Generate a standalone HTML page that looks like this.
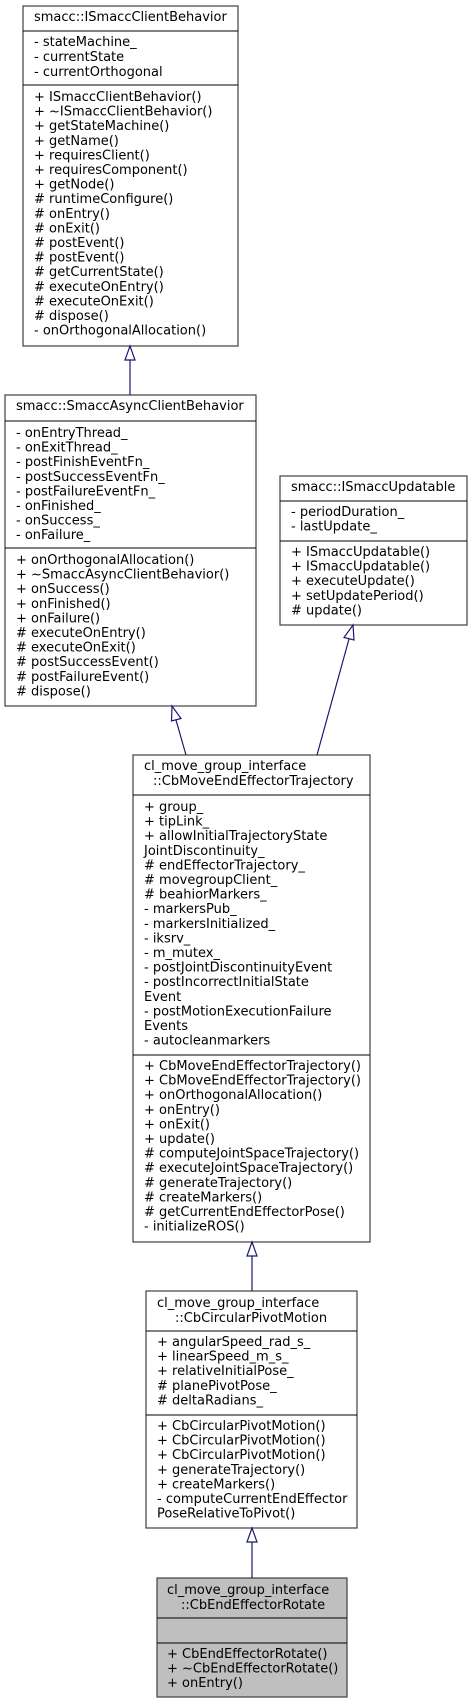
<!DOCTYPE html>
<html><head><meta charset="utf-8"><style>
html,body{margin:0;padding:0;background:#fff;}
svg{display:block;}
text{font-family:"DejaVu Sans","Liberation Sans",sans-serif;font-size:13px;fill:#000;}
.b{fill:#fff;stroke:#404040;stroke-width:1.2;}
.g{fill:#bfbfbf;stroke:#404040;stroke-width:1.2;}
.d{stroke:#000;stroke-width:1;}
.e{stroke:#191970;stroke-width:1.2;fill:none;}
.a{stroke:#191970;stroke-width:1.2;fill:#fff;}
</style></head><body>
<svg width="472" height="1704" viewBox="0 0 472 1704" xmlns="http://www.w3.org/2000/svg">
<!-- Box1 -->
<rect class="b" x="23" y="6" width="215" height="340"/>
<line class="d" x1="23" y1="31" x2="238" y2="31"/>
<line class="d" x1="23" y1="85" x2="238" y2="85"/>
<text x="34" y="21">smacc::ISmaccClientBehavior</text>
<text x="34" y="46">- stateMachine_</text>
<text x="34" y="61">- currentState</text>
<text x="34" y="76">- currentOrthogonal</text>
<text x="34" y="101">+ ISmaccClientBehavior()</text>
<text x="34" y="115.6">+ ~ISmaccClientBehavior()</text>
<text x="34" y="130.2">+ getStateMachine()</text>
<text x="34" y="144.8">+ getName()</text>
<text x="34" y="159.4">+ requiresClient()</text>
<text x="34" y="174">+ requiresComponent()</text>
<text x="34" y="188.6">+ getNode()</text>
<text x="34" y="203.2"># runtimeConfigure()</text>
<text x="34" y="217.8"># onEntry()</text>
<text x="34" y="232.4"># onExit()</text>
<text x="34" y="247"># postEvent()</text>
<text x="34" y="261.6"># postEvent()</text>
<text x="34" y="276.2"># getCurrentState()</text>
<text x="34" y="290.8"># executeOnEntry()</text>
<text x="34" y="305.4"># executeOnExit()</text>
<text x="34" y="320"># dispose()</text>
<text x="34" y="334.6">- onOrthogonalAllocation()</text>

<!-- Box2 -->
<rect class="b" x="5" y="395" width="251" height="311"/>
<line class="d" x1="5" y1="421" x2="256" y2="421"/>
<line class="d" x1="5" y1="548" x2="256" y2="548"/>
<text x="16" y="410">smacc::SmaccAsyncClientBehavior</text>
<text x="16" y="437">- onEntryThread_</text>
<text x="16" y="451.6">- onExitThread_</text>
<text x="16" y="466.2">- postFinishEventFn_</text>
<text x="16" y="480.8">- postSuccessEventFn_</text>
<text x="16" y="495.4">- postFailureEventFn_</text>
<text x="16" y="510">- onFinished_</text>
<text x="16" y="524.6">- onSuccess_</text>
<text x="16" y="539.2">- onFailure_</text>
<text x="16" y="564">+ onOrthogonalAllocation()</text>
<text x="16" y="578.6">+ ~SmaccAsyncClientBehavior()</text>
<text x="16" y="593.2">+ onSuccess()</text>
<text x="16" y="607.8">+ onFinished()</text>
<text x="16" y="622.4">+ onFailure()</text>
<text x="16" y="637"># executeOnEntry()</text>
<text x="16" y="651.6"># executeOnExit()</text>
<text x="16" y="666.2"># postSuccessEvent()</text>
<text x="16" y="680.8"># postFailureEvent()</text>
<text x="16" y="695.4"># dispose()</text>

<!-- Box3 -->
<rect class="b" x="280" y="476" width="187" height="149"/>
<line class="d" x1="280" y1="501" x2="467" y2="501"/>
<line class="d" x1="280" y1="541" x2="467" y2="541"/>
<text x="291" y="491">smacc::ISmaccUpdatable</text>
<text x="291" y="516">- periodDuration_</text>
<text x="291" y="530.6">- lastUpdate_</text>
<text x="291" y="556">+ ISmaccUpdatable()</text>
<text x="291" y="570.6">+ ISmaccUpdatable()</text>
<text x="291" y="585.2">+ executeUpdate()</text>
<text x="291" y="599.8">+ setUpdatePeriod()</text>
<text x="291" y="614.4"># update()</text>

<!-- Box4 -->
<rect class="b" x="133" y="755" width="237" height="487"/>
<line class="d" x1="133" y1="795" x2="370" y2="795"/>
<line class="d" x1="133" y1="1055" x2="370" y2="1055"/>
<text x="144" y="770">cl_move_group_interface</text>
<text x="153" y="785">::CbMoveEndEffectorTrajectory</text>
<text x="144" y="811">+ group_</text>
<text x="144" y="825.6">+ tipLink_</text>
<text x="144" y="840.2">+ allowInitialTrajectoryState</text>
<text x="144" y="854.8">JointDiscontinuity_</text>
<text x="144" y="869.4"># endEffectorTrajectory_</text>
<text x="144" y="884"># movegroupClient_</text>
<text x="144" y="898.6"># beahiorMarkers_</text>
<text x="144" y="913.2">- markersPub_</text>
<text x="144" y="927.8">- markersInitialized_</text>
<text x="144" y="942.4">- iksrv_</text>
<text x="144" y="957">- m_mutex_</text>
<text x="144" y="971.6">- postJointDiscontinuityEvent</text>
<text x="144" y="986.2">- postIncorrectInitialState</text>
<text x="144" y="1000.8">Event</text>
<text x="144" y="1015.4">- postMotionExecutionFailure</text>
<text x="144" y="1030">Events</text>
<text x="144" y="1044.6">- autocleanmarkers</text>
<text x="144" y="1070">+ CbMoveEndEffectorTrajectory()</text>
<text x="144" y="1084.6">+ CbMoveEndEffectorTrajectory()</text>
<text x="144" y="1099.2">+ onOrthogonalAllocation()</text>
<text x="144" y="1113.8">+ onEntry()</text>
<text x="144" y="1128.4">+ onExit()</text>
<text x="144" y="1143">+ update()</text>
<text x="144" y="1157.6"># computeJointSpaceTrajectory()</text>
<text x="144" y="1172.2"># executeJointSpaceTrajectory()</text>
<text x="144" y="1186.8"># generateTrajectory()</text>
<text x="144" y="1201.4"># createMarkers()</text>
<text x="144" y="1216"># getCurrentEndEffectorPose()</text>
<text x="144" y="1230.6">- initializeROS()</text>

<!-- Box5 -->
<rect class="b" x="146" y="1291" width="211" height="237"/>
<line class="d" x1="146" y1="1331" x2="357" y2="1331"/>
<line class="d" x1="146" y1="1415" x2="357" y2="1415"/>
<text x="157" y="1307">cl_move_group_interface</text>
<text x="175" y="1322">::CbCircularPivotMotion</text>
<text x="157" y="1346">+ angularSpeed_rad_s_</text>
<text x="157" y="1360.6">+ linearSpeed_m_s_</text>
<text x="157" y="1375.2">+ relativeInitialPose_</text>
<text x="157" y="1389.8"># planePivotPose_</text>
<text x="157" y="1404.4"># deltaRadians_</text>
<text x="157" y="1430">+ CbCircularPivotMotion()</text>
<text x="157" y="1444.6">+ CbCircularPivotMotion()</text>
<text x="157" y="1459.2">+ CbCircularPivotMotion()</text>
<text x="157" y="1473.8">+ generateTrajectory()</text>
<text x="157" y="1488.4">+ createMarkers()</text>
<text x="157" y="1503">- computeCurrentEndEffector</text>
<text x="157" y="1517.6">PoseRelativeToPivot()</text>

<!-- Box6 -->
<rect class="g" x="157" y="1578" width="190" height="119"/>
<line class="d" x1="157" y1="1618" x2="347" y2="1618"/>
<line class="d" x1="157" y1="1643" x2="347" y2="1643"/>
<text x="167" y="1594">cl_move_group_interface</text>
<text x="181" y="1609">::CbEndEffectorRotate</text>
<text x="167" y="1658">+ CbEndEffectorRotate()</text>
<text x="167" y="1672.6">+ ~CbEndEffectorRotate()</text>
<text x="167" y="1687.2">+ onEntry()</text>

<!-- Edges -->
<line class="e" x1="130" y1="360" x2="130" y2="395"/>
<polygon class="a" points="130,346 125,360 135,360"/>

<line class="e" x1="176" y1="720" x2="186" y2="755"/>
<polygon class="a" points="172,706 171.5,721 181,718.5"/>

<line class="e" x1="349" y1="639" x2="317" y2="755"/>
<polygon class="a" points="353,625 344,637.5 354,640"/>

<line class="e" x1="252" y1="1256" x2="252" y2="1291"/>
<polygon class="a" points="252,1242 247,1256 257,1256"/>

<line class="e" x1="252" y1="1542" x2="252" y2="1578"/>
<polygon class="a" points="252,1528 247,1542 257,1542"/>
</svg>
</body></html>
